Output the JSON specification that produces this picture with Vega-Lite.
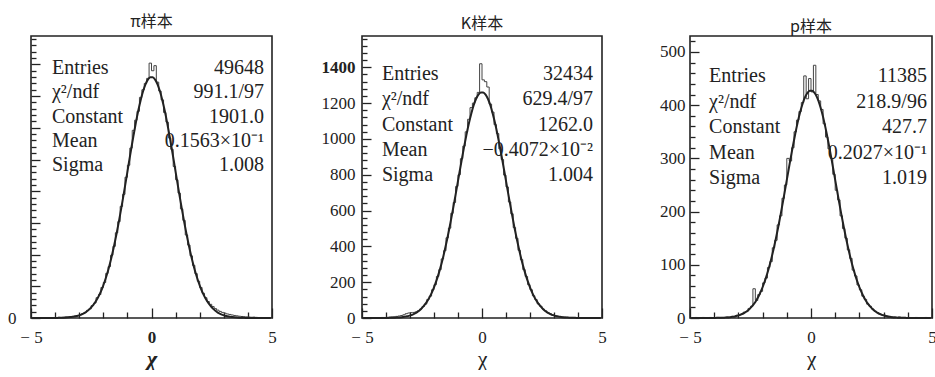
{
  "$schema": "https://vega.github.io/schema/vega-lite/v6.json",
  "background": "white",
  "padding": {"left": 6, "top": 13, "right": 0, "bottom": 0},
  "spacing": 42,
  "config": {
    "view": {"stroke": "#222", "strokeWidth": 1.6},
    "font": "Liberation Serif",
    "title": {"font": "Noto Sans CJK SC", "fontSize": 16, "fontWeight": "normal", "color": "#222"},
    "axis": {"domain": false, "grid": false, "labelOverlap": false, "labelFlush": false, "labelBound": false, "format": "d", "labelFont": "Liberation Serif", "labelFontSize": 17, "labelColor": "#222", "tickColor": "#222", "tickWidth": 1.3, "titleFont": "Liberation Serif", "titleFontSize": 22, "titleFontWeight": "normal", "titleColor": "#222"}
  },
  "datasets": {
    "a": [
      {"x":-4.95,"h":0,"f":0},{"x":-4.85,"h":1,"f":0},{"x":-4.75,"h":0,"f":0},{"x":-4.65,"h":1,"f":0},{"x":-4.55,"h":2,"f":0},{"x":-4.45,"h":1,"f":0.1},{"x":-4.35,"h":2,"f":0.1},{"x":-4.25,"h":3,"f":0.2},{"x":-4.15,"h":2,"f":0.3},{"x":-4.05,"h":4,"f":0.5},
      {"x":-3.95,"h":3,"f":0.8},{"x":-3.85,"h":5,"f":1.1},{"x":-3.75,"h":4,"f":1.7},{"x":-3.65,"h":6,"f":2.4},{"x":-3.55,"h":8,"f":3.5},{"x":-3.45,"h":7,"f":5},{"x":-3.35,"h":10,"f":7},{"x":-3.25,"h":12,"f":10},{"x":-3.15,"h":15,"f":13},{"x":-3.05,"h":19,"f":18},
      {"x":-2.95,"h":24,"f":25},{"x":-2.85,"h":35,"f":33},{"x":-2.75,"h":44,"f":43},{"x":-2.65,"h":60,"f":57},{"x":-2.55,"h":72,"f":74},{"x":-2.45,"h":98,"f":95},{"x":-2.35,"h":118,"f":120},{"x":-2.25,"h":160,"f":151},{"x":-2.15,"h":185,"f":188},{"x":-2.05,"h":240,"f":232},
      {"x":-1.95,"h":280,"f":284},{"x":-1.85,"h":352,"f":343},{"x":-1.75,"h":405,"f":411},{"x":-1.65,"h":495,"f":487},{"x":-1.55,"h":565,"f":572},{"x":-1.45,"h":672,"f":664},{"x":-1.35,"h":760,"f":764},{"x":-1.25,"h":880,"f":870},{"x":-1.15,"h":975,"f":981},{"x":-1.05,"h":1110,"f":1095},
      {"x":-0.95,"h":1205,"f":1211},{"x":-0.85,"h":1340,"f":1325},{"x":-0.75,"h":1480,"f":1435},{"x":-0.65,"h":1560,"f":1539},{"x":-0.55,"h":1630,"f":1634},{"x":-0.45,"h":1740,"f":1718},{"x":-0.35,"h":1800,"f":1788},{"x":-0.25,"h":1850,"f":1843},{"x":-0.15,"h":1890,"f":1880},{"x":-0.05,"h":2010,"f":1899},
      {"x":0.05,"h":1950,"f":1899},{"x":0.15,"h":1990,"f":1880},{"x":0.25,"h":1860,"f":1843},{"x":0.35,"h":1790,"f":1788},{"x":0.45,"h":1720,"f":1718},{"x":0.55,"h":1620,"f":1634},{"x":0.65,"h":1545,"f":1539},{"x":0.75,"h":1420,"f":1435},{"x":0.85,"h":1330,"f":1325},{"x":0.95,"h":1195,"f":1211},
      {"x":1.05,"h":1090,"f":1095},{"x":1.15,"h":985,"f":981},{"x":1.25,"h":860,"f":870},{"x":1.35,"h":770,"f":764},{"x":1.45,"h":655,"f":664},{"x":1.55,"h":575,"f":572},{"x":1.65,"h":490,"f":487},{"x":1.75,"h":415,"f":411},{"x":1.85,"h":350,"f":343},{"x":1.95,"h":290,"f":284},
      {"x":2.05,"h":240,"f":232},{"x":2.15,"h":195,"f":188},{"x":2.25,"h":160,"f":151},{"x":2.35,"h":130,"f":120},{"x":2.45,"h":108,"f":95},{"x":2.55,"h":90,"f":74},{"x":2.65,"h":74,"f":57},{"x":2.75,"h":62,"f":43},{"x":2.85,"h":52,"f":33},{"x":2.95,"h":44,"f":25},
      {"x":3.05,"h":38,"f":18},{"x":3.15,"h":32,"f":13},{"x":3.25,"h":28,"f":10},{"x":3.35,"h":24,"f":7},{"x":3.45,"h":20,"f":5},{"x":3.55,"h":17,"f":3.5},{"x":3.65,"h":14,"f":2.4},{"x":3.75,"h":12,"f":1.7},{"x":3.85,"h":10,"f":1.1},{"x":3.95,"h":9,"f":0.8},
      {"x":4.05,"h":8,"f":0.5},{"x":4.15,"h":6,"f":0.3},{"x":4.25,"h":7,"f":0.2},{"x":4.35,"h":5,"f":0.1},{"x":4.45,"h":4,"f":0.1},{"x":4.55,"h":4,"f":0},{"x":4.65,"h":3,"f":0},{"x":4.75,"h":2,"f":0},{"x":4.85,"h":2,"f":0},{"x":4.95,"h":1,"f":0}
    ],
    "b": [
      {"x":-4.95,"h":0,"f":0},{"x":-4.85,"h":1,"f":0},{"x":-4.75,"h":0,"f":0},{"x":-4.65,"h":1,"f":0},{"x":-4.55,"h":1,"f":0},{"x":-4.45,"h":2,"f":0.1},{"x":-4.35,"h":1,"f":0.1},{"x":-4.25,"h":2,"f":0.1},{"x":-4.15,"h":3,"f":0.2},{"x":-4.05,"h":3,"f":0.3},
      {"x":-3.95,"h":4,"f":0.5},{"x":-3.85,"h":5,"f":0.8},{"x":-3.75,"h":6,"f":1.1},{"x":-3.65,"h":7,"f":1.6},{"x":-3.55,"h":9,"f":2.3},{"x":-3.45,"h":11,"f":3.3},{"x":-3.35,"h":14,"f":4.6},{"x":-3.25,"h":18,"f":6.4},{"x":-3.15,"h":24,"f":9},{"x":-3.05,"h":28,"f":12},
      {"x":-2.95,"h":30,"f":16},{"x":-2.85,"h":31,"f":22},{"x":-2.75,"h":34,"f":29},{"x":-2.65,"h":40,"f":38},{"x":-2.55,"h":50,"f":49},{"x":-2.45,"h":64,"f":63},{"x":-2.35,"h":78,"f":80},{"x":-2.25,"h":104,"f":100},{"x":-2.15,"h":122,"f":125},{"x":-2.05,"h":158,"f":154},
      {"x":-1.95,"h":186,"f":189},{"x":-1.85,"h":232,"f":228},{"x":-1.75,"h":270,"f":273},{"x":-1.65,"h":330,"f":323},{"x":-1.55,"h":376,"f":380},{"x":-1.45,"h":448,"f":441},{"x":-1.35,"h":502,"f":507},{"x":-1.25,"h":585,"f":578},{"x":-1.15,"h":645,"f":651},{"x":-1.05,"h":735,"f":727},
      {"x":-0.95,"h":800,"f":804},{"x":-0.85,"h":890,"f":879},{"x":-0.75,"h":960,"f":953},{"x":-0.65,"h":1040,"f":1022},{"x":-0.55,"h":1110,"f":1085},{"x":-0.45,"h":1175,"f":1140},{"x":-0.35,"h":1200,"f":1187},{"x":-0.25,"h":1230,"f":1223},{"x":-0.15,"h":1260,"f":1248},{"x":-0.05,"h":1420,"f":1260},
      {"x":0.05,"h":1330,"f":1260},{"x":0.15,"h":1320,"f":1248},{"x":0.25,"h":1290,"f":1223},{"x":0.35,"h":1195,"f":1187},{"x":0.45,"h":1150,"f":1140},{"x":0.55,"h":1080,"f":1085},{"x":0.65,"h":1030,"f":1022},{"x":0.75,"h":945,"f":953},{"x":0.85,"h":885,"f":879},{"x":0.95,"h":798,"f":804},
      {"x":1.05,"h":732,"f":727},{"x":1.15,"h":648,"f":651},{"x":1.25,"h":582,"f":578},{"x":1.35,"h":505,"f":507},{"x":1.45,"h":445,"f":441},{"x":1.55,"h":378,"f":380},{"x":1.65,"h":326,"f":323},{"x":1.75,"h":270,"f":273},{"x":1.85,"h":232,"f":228},{"x":1.95,"h":186,"f":189},
      {"x":2.05,"h":158,"f":154},{"x":2.15,"h":124,"f":125},{"x":2.25,"h":103,"f":100},{"x":2.35,"h":79,"f":80},{"x":2.45,"h":66,"f":63},{"x":2.55,"h":50,"f":49},{"x":2.65,"h":40,"f":38},{"x":2.75,"h":30,"f":29},{"x":2.85,"h":24,"f":22},{"x":2.95,"h":17,"f":16},
      {"x":3.05,"h":14,"f":12},{"x":3.15,"h":10,"f":9},{"x":3.25,"h":8,"f":6.4},{"x":3.35,"h":6,"f":4.6},{"x":3.45,"h":5,"f":3.3},{"x":3.55,"h":4,"f":2.3},{"x":3.65,"h":3,"f":1.6},{"x":3.75,"h":3,"f":1.1},{"x":3.85,"h":2,"f":0.8},{"x":3.95,"h":2,"f":0.5},
      {"x":4.05,"h":1,"f":0.3},{"x":4.15,"h":1,"f":0.2},{"x":4.25,"h":2,"f":0.1},{"x":4.35,"h":1,"f":0.1},{"x":4.45,"h":0,"f":0.1},{"x":4.55,"h":1,"f":0},{"x":4.65,"h":0,"f":0},{"x":4.75,"h":1,"f":0},{"x":4.85,"h":0,"f":0},{"x":4.95,"h":0,"f":0}
    ],
    "c": [
      {"x":-4.95,"h":0,"f":0},{"x":-4.85,"h":0,"f":0},{"x":-4.75,"h":1,"f":0},{"x":-4.65,"h":0,"f":0},{"x":-4.55,"h":0,"f":0},{"x":-4.45,"h":1,"f":0},{"x":-4.35,"h":0,"f":0},{"x":-4.25,"h":0,"f":0},{"x":-4.15,"h":1,"f":0},{"x":-4.05,"h":0,"f":0.1},
      {"x":-3.95,"h":0,"f":0.2},{"x":-3.85,"h":1,"f":0.3},{"x":-3.75,"h":0,"f":0.4},{"x":-3.65,"h":1,"f":0.5},{"x":-3.55,"h":1,"f":0.8},{"x":-3.45,"h":2,"f":1.1},{"x":-3.35,"h":1,"f":1.6},{"x":-3.25,"h":3,"f":2.2},{"x":-3.15,"h":2,"f":3.0},{"x":-3.05,"h":5,"f":4.1},
      {"x":-2.95,"h":6,"f":5.5},{"x":-2.85,"h":8,"f":7.4},{"x":-2.75,"h":11,"f":9.8},{"x":-2.65,"h":12,"f":12.8},{"x":-2.55,"h":18,"f":16.6},{"x":-2.45,"h":22,"f":21.3},{"x":-2.35,"h":55,"f":27.0},{"x":-2.25,"h":33,"f":34.0},{"x":-2.15,"h":44,"f":42.4},{"x":-2.05,"h":50,"f":52.3},
      {"x":-1.95,"h":66,"f":63.9},{"x":-1.85,"h":75,"f":77.3},{"x":-1.75,"h":95,"f":92.5},{"x":-1.65,"h":106,"f":109.6},{"x":-1.55,"h":132,"f":128.7},{"x":-1.45,"h":146,"f":149.5},{"x":-1.35,"h":175,"f":171.9},{"x":-1.25,"h":192,"f":195.8},{"x":-1.15,"h":225,"f":220.8},{"x":-1.05,"h":250,"f":246.5},
      {"x":-0.95,"h":300,"f":272.4},{"x":-0.85,"h":295,"f":298.0},{"x":-0.75,"h":320,"f":322.8},{"x":-0.65,"h":350,"f":346.3},{"x":-0.55,"h":372,"f":367.7},{"x":-0.45,"h":388,"f":386.5},{"x":-0.35,"h":405,"f":402.3},{"x":-0.25,"h":455,"f":414.5},{"x":-0.15,"h":412,"f":422.9},{"x":-0.05,"h":450,"f":427.2},
      {"x":0.05,"h":425,"f":427.2},{"x":0.15,"h":475,"f":422.9},{"x":0.25,"h":420,"f":414.5},{"x":0.35,"h":408,"f":402.3},{"x":0.45,"h":392,"f":386.5},{"x":0.55,"h":365,"f":367.7},{"x":0.65,"h":340,"f":346.3},{"x":0.75,"h":318,"f":322.8},{"x":0.85,"h":300,"f":298.0},{"x":0.95,"h":270,"f":272.4},
      {"x":1.05,"h":240,"f":246.5},{"x":1.15,"h":222,"f":220.8},{"x":1.25,"h":192,"f":195.8},{"x":1.35,"h":168,"f":171.9},{"x":1.45,"h":150,"f":149.5},{"x":1.55,"h":128,"f":128.7},{"x":1.65,"h":112,"f":109.6},{"x":1.75,"h":90,"f":92.5},{"x":1.85,"h":79,"f":77.3},{"x":1.95,"h":62,"f":63.9},
      {"x":2.05,"h":53,"f":52.3},{"x":2.15,"h":41,"f":42.4},{"x":2.25,"h":35,"f":34.0},{"x":2.35,"h":26,"f":27.0},{"x":2.45,"h":22,"f":21.3},{"x":2.55,"h":17,"f":16.6},{"x":2.65,"h":13,"f":12.8},{"x":2.75,"h":10,"f":9.8},{"x":2.85,"h":8,"f":7.4},{"x":2.95,"h":6,"f":5.5},
      {"x":3.05,"h":5,"f":4.1},{"x":3.15,"h":4,"f":3.0},{"x":3.25,"h":3,"f":2.2},{"x":3.35,"h":2,"f":1.6},{"x":3.45,"h":2,"f":1.1},{"x":3.55,"h":1,"f":0.8},{"x":3.65,"h":2,"f":0.5},{"x":3.75,"h":1,"f":0.4},{"x":3.85,"h":1,"f":0.3},{"x":3.95,"h":0,"f":0.2},
      {"x":4.05,"h":1,"f":0.1},{"x":4.15,"h":0,"f":0.1},{"x":4.25,"h":0,"f":0},{"x":4.35,"h":1,"f":0},{"x":4.45,"h":0,"f":0},{"x":4.55,"h":0,"f":0},{"x":4.65,"h":0,"f":0},{"x":4.75,"h":1,"f":0},{"x":4.85,"h":0,"f":0},{"x":4.95,"h":0,"f":0}
    ],
    "sa": [{"row":1,"k":"Entries","v":"49648"},{"row":2,"k":"χ²/ndf","v":"991.1/97"},{"row":3,"k":"Constant","v":"1901.0"},{"row":4,"k":"Mean","v":"0.1563×10⁻¹"},{"row":5,"k":"Sigma","v":"1.008"}],
    "sb": [{"row":1,"k":"Entries","v":"32434"},{"row":2,"k":"χ²/ndf","v":"629.4/97"},{"row":3,"k":"Constant","v":"1262.0"},{"row":4,"k":"Mean","v":"−0.4072×10⁻²"},{"row":5,"k":"Sigma","v":"1.004"}],
    "sc": [{"row":1,"k":"Entries","v":"11385"},{"row":2,"k":"χ²/ndf","v":"218.9/96"},{"row":3,"k":"Constant","v":"427.7"},{"row":4,"k":"Mean","v":"0.2027×10⁻¹"},{"row":5,"k":"Sigma","v":"1.019"}]
  },
  "hconcat": [
    {
      "title": {"text": "π样本", "offset": 6},
      "width": 241, "height": 282,
      "resolve": {"scale": {"y": "independent"}},
      "layer": [
        {
          "data": {"name": "a"},
          "resolve": {"axis": {"x": "independent", "y": "independent"}},
          "layer": [
            {"mark": {"type": "line", "interpolate": "step", "color": "#444", "strokeWidth": 1},
             "encoding": {
               "x": {"field": "x", "type": "quantitative", "scale": {"domain": [-5, 5], "nice": false},
                     "axis": {"orient": "bottom", "values": [-5, 0, 5], "labelExpr": "datum.value === -5 ? '− 5' : datum.label",
                              "tickSize": -10, "labelFontWeight": {"condition": {"test": "datum.value === 0", "value": "bold"}, "value": "normal"},
                              "labelPadding": 21, "title": "χ", "titleFontWeight": "bold", "titleFontStyle": "italic", "titlePadding": 3}},
               "y": {"field": "h", "type": "quantitative", "scale": {"domain": [0, 2224], "nice": false},
                     "axis": {"orient": "left", "values": [0,250,500,750,1000,1250,1500,1750,2000], "labelExpr": "datum.value === 0 ? '0' : ''", "tickSize": -9, "labelPadding": 24, "title": null}}}},
            {"mark": {"type": "line", "interpolate": "monotone", "color": "#222", "strokeWidth": 2},
             "encoding": {
               "x": {"field": "x", "type": "quantitative", "axis": {"orient": "bottom", "values": [-4,-3,-2,-1,1,2,3,4], "labels": false, "tickSize": -6, "title": null}},
               "y": {"field": "f", "type": "quantitative",
                     "axis": {"orient": "left", "values": [50,100,150,200,300,350,400,450,550,600,650,700,800,850,900,950,1050,1100,1150,1200,1300,1350,1400,1450,1550,1600,1650,1700,1800,1850,1900,1950,2050,2100,2150,2200], "labels": false, "tickSize": -5, "title": null}}}}
          ]
        },
        {
          "data": {"name": "sa"},
          "mark": {"type": "text", "align": "left", "baseline": "middle", "fontSize": 20, "color": "#222"},
          "encoding": {"x": {"datum": -4.13, "type": "quantitative", "axis": null}, "y": {"field": "row", "type": "quantitative", "scale": {"domain": [-0.326, 11.303], "reverse": true, "nice": false, "zero": false}, "axis": null}, "text": {"field": "k"}}
        },
        {
          "data": {"name": "sa"},
          "mark": {"type": "text", "align": "right", "baseline": "middle", "fontSize": 20, "color": "#222"},
          "encoding": {"x": {"datum": 4.67, "type": "quantitative", "axis": null}, "y": {"field": "row", "type": "quantitative", "scale": {"domain": [-0.326, 11.303], "reverse": true, "nice": false, "zero": false}, "axis": null}, "text": {"field": "v"}}
        }
      ]
    },
    {
      "spacing": 50,
      "hconcat": [
        {
          "title": {"text": "K样本", "offset": 4},
          "width": 240, "height": 282,
          "resolve": {"scale": {"y": "independent"}},
          "layer": [
            {
              "data": {"name": "b"},
              "resolve": {"axis": {"x": "independent", "y": "independent"}},
              "layer": [
                {"mark": {"type": "line", "interpolate": "step", "color": "#444", "strokeWidth": 1},
                 "encoding": {
                   "x": {"field": "x", "type": "quantitative", "scale": {"domain": [-5, 5], "nice": false},
                         "axis": {"orient": "bottom", "values": [-5, 0, 5], "labelExpr": "datum.value === -5 ? '− 5' : datum.label",
                                  "tickSize": -10, "labelPadding": 21, "title": "χ", "titlePadding": 3}},
                   "y": {"field": "h", "type": "quantitative", "scale": {"domain": [0, 1575], "nice": false},
                         "axis": {"orient": "left", "values": [0,200,400,600,800,1000,1200,1400], "tickSize": -9, "labelPadding": 16, "title": null,
                                  "labelFontWeight": {"condition": {"test": "datum.value === 1400", "value": "bold"}, "value": "normal"}}}}},
                {"mark": {"type": "line", "interpolate": "monotone", "color": "#222", "strokeWidth": 2},
                 "encoding": {
                   "x": {"field": "x", "type": "quantitative", "axis": {"orient": "bottom", "values": [-4,-3,-2,-1,1,2,3,4], "labels": false, "tickSize": -6, "title": null}},
                   "y": {"field": "f", "type": "quantitative",
                         "axis": {"orient": "left", "values": [40,80,120,160,240,280,320,360,440,480,520,560,640,680,720,760,840,880,920,960,1040,1080,1120,1160,1240,1280,1320,1360,1440,1480,1520,1560], "labels": false, "tickSize": -5, "title": null}}}}
              ]
            },
            {
              "data": {"name": "sb"},
              "mark": {"type": "text", "align": "left", "baseline": "middle", "fontSize": 20, "color": "#222"},
              "encoding": {"x": {"datum": -4.17, "type": "quantitative", "axis": null}, "y": {"field": "row", "type": "quantitative", "scale": {"domain": [-0.509, 10.659], "reverse": true, "nice": false, "zero": false}, "axis": null}, "text": {"field": "k"}}
            },
            {
              "data": {"name": "sb"},
              "mark": {"type": "text", "align": "right", "baseline": "middle", "fontSize": 20, "color": "#222"},
              "encoding": {"x": {"datum": 4.63, "type": "quantitative", "axis": null}, "y": {"field": "row", "type": "quantitative", "scale": {"domain": [-0.509, 10.659], "reverse": true, "nice": false, "zero": false}, "axis": null}, "text": {"field": "v"}}
            }
          ]
        },
        {
          "title": {"text": "p样本", "offset": 1},
          "width": 242, "height": 282,
          "resolve": {"scale": {"y": "independent"}},
          "layer": [
            {
              "data": {"name": "c"},
              "resolve": {"axis": {"x": "independent", "y": "independent"}},
              "layer": [
                {"mark": {"type": "line", "interpolate": "step", "color": "#444", "strokeWidth": 1},
                 "encoding": {
                   "x": {"field": "x", "type": "quantitative", "scale": {"domain": [-5, 5], "nice": false},
                         "axis": {"orient": "bottom", "values": [-5, 0, 5], "labelExpr": "datum.value === -5 ? '− 5' : datum.label",
                                  "tickSize": -10, "labelPadding": 21, "title": "χ", "titlePadding": 3}},
                   "y": {"field": "h", "type": "quantitative", "scale": {"domain": [0, 530], "nice": false},
                         "axis": {"orient": "left", "values": [0,100,200,300,400,500], "tickSize": -9, "labelPadding": 14, "title": null}}}},
                {"mark": {"type": "line", "interpolate": "monotone", "color": "#222", "strokeWidth": 2},
                 "encoding": {
                   "x": {"field": "x", "type": "quantitative", "axis": {"orient": "bottom", "values": [-4,-3,-2,-1,1,2,3,4], "labels": false, "tickSize": -6, "title": null}},
                   "y": {"field": "f", "type": "quantitative",
                         "axis": {"orient": "left", "values": [20,40,60,80,120,140,160,180,220,240,260,280,320,340,360,380,420,440,460,480,520], "labels": false, "tickSize": -5, "title": null}}}}
              ]
            },
            {
              "data": {"name": "sc"},
              "mark": {"type": "text", "align": "left", "baseline": "middle", "fontSize": 20, "color": "#222"},
              "encoding": {"x": {"datum": -4.21, "type": "quantitative", "axis": null}, "y": {"field": "row", "type": "quantitative", "scale": {"domain": [-0.573, 10.486], "reverse": true, "nice": false, "zero": false}, "axis": null}, "text": {"field": "k"}}
            },
            {
              "data": {"name": "sc"},
              "mark": {"type": "text", "align": "right", "baseline": "middle", "fontSize": 20, "color": "#222"},
              "encoding": {"x": {"datum": 4.79, "type": "quantitative", "axis": null}, "y": {"field": "row", "type": "quantitative", "scale": {"domain": [-0.573, 10.486], "reverse": true, "nice": false, "zero": false}, "axis": null}, "text": {"field": "v"}}
            }
          ]
        }
      ]
    }
  ]
}
